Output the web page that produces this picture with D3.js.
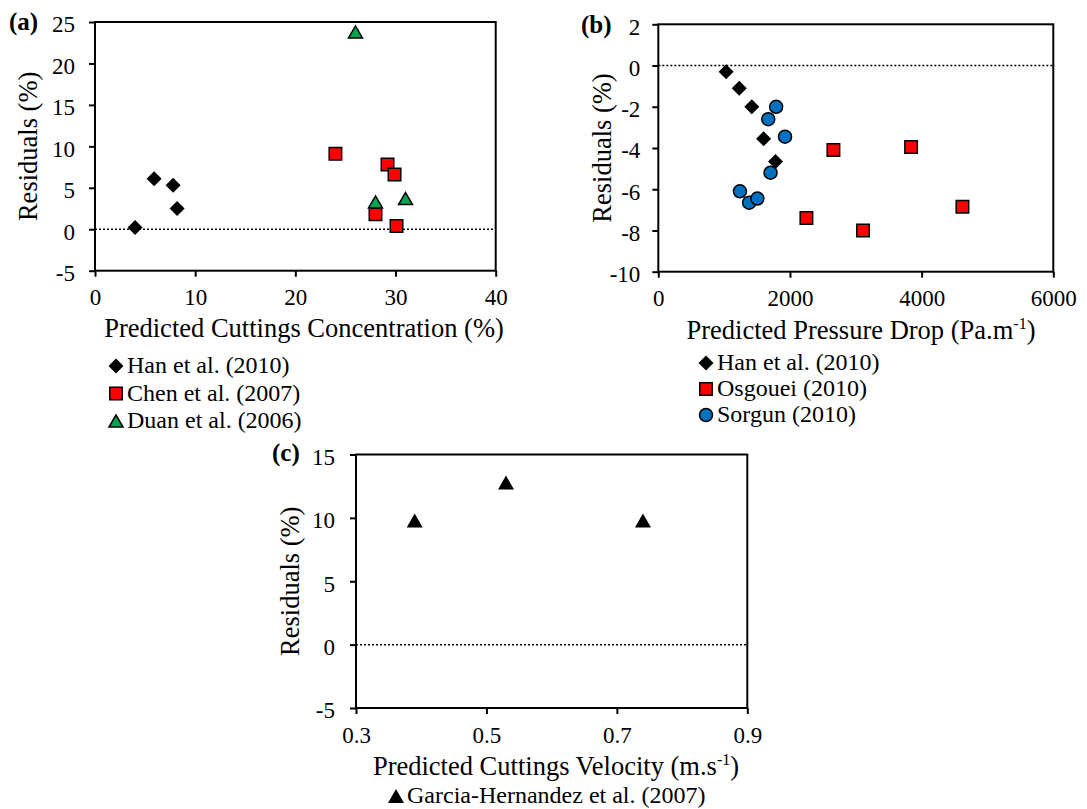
<!DOCTYPE html>
<html>
<head>
<meta charset="utf-8">
<script src="https://cdn.jsdelivr.net/npm/d3@7"></script>
<style>
body { margin: 0; background: #fff; }
svg { display: block; }
</style>
</head>
<body>
<svg id="chart" width="1087" height="809"></svg>
<script>
// ---- data ----
// (a) cuttings concentration vs residuals
var hanA = [[4.0, 0.2], [5.9, 6.1], [7.8, 5.3], [8.2, 2.5]]
var chenA = [[24.0, 9.1], [29.2, 7.8], [29.9, 6.6], [28.0, 1.8], [30.1, 0.4]]
var duanA = [[26.0, 23.8], [28.0, 3.3], [31.0, 3.7]]
// (b) pressure drop vs residuals
var hanB = [[1030, -0.3], [1230, -1.1], [1420, -2.0], [1600, -3.55], [1780, -4.65]]
var osgoueiB = [[2660, -4.1], [3840, -3.95], [2250, -7.4], [3110, -8.0], [4620, -6.85]]
var sorgunB = [[1790, -2.0], [1670, -2.6], [1925, -3.45], [1705, -5.2], [1240, -6.1], [1380, -6.65], [1505, -6.45]]
// (c) cuttings velocity vs residuals
var garciaC = [[0.39, 9.8], [0.53, 12.8], [0.74, 9.8]]

var ticksAx = [0, 10, 20, 30, 40], ticksAy = [-5, 0, 5, 10, 15, 20, 25]
var ticksBx = [0, 2000, 4000, 6000], ticksBy = [-10, -8, -6, -4, -2, 0, 2]
var ticksCx = [0.3, 0.5, 0.7, 0.9], ticksCy = [-5, 0, 5, 10, 15]

var FONT = '"Liberation Serif", "Times New Roman", Times, serif'
var svg = d3.select('#chart').style('font-family', FONT)

// marker outline centred on (0,0), w x h box
function marker(shape, w, h) {
    var a = w / 2, b = h / 2
    if (shape == 'diamond') return 'M0,' + (-b) + 'L' + a + ',0L0,' + b + 'L' + (-a) + ',0Z'
    if (shape == 'square') return 'M' + (-a) + ',' + (-b) + 'H' + a + 'V' + b + 'H' + (-a) + 'Z'
    if (shape == 'triangle') return 'M0,' + (-b) + 'L' + a + ',' + b + 'L' + (-a) + ',' + b + 'Z'
    // circle
    return 'M' + a + ',0A' + a + ',' + a + ' 0 1,1 ' + (-a) + ',0A' + a + ',' + a + ' 0 1,1 ' + a + ',0Z'
}

var styles = {
    han: { shape: 'diamond', w: 15, h: 15, fill: '#000', stroke: 'none' },
    chen: { shape: 'square', w: 12.5, h: 12.5, fill: '#ff0000', stroke: '#000' },
    duan: { shape: 'triangle', w: 14, h: 12, fill: '#00a550', stroke: '#000' },
    sorgun: { shape: 'circle', w: 13, h: 13, fill: '#0070c0', stroke: '#000' },
    garcia: { shape: 'triangle', w: 16, h: 14, fill: '#000', stroke: 'none' }
}

function txt(sel, size) {
    return sel.style('font-family', FONT).style('font-size', size + 'px').attr('fill', '#000')
}

function drawPanel(p) {
    var x = d3.scaleLinear().domain(p.xd).range(p.xr)
    var y = d3.scaleLinear().domain(p.yd).range(p.yr)
    var g = svg.append('g')

    // zero line
    g.append('line')
        .attr('x1', x(p.xd[0])).attr('x2', x(p.xd[1]))
        .attr('y1', y(0)).attr('y2', y(0))
        .attr('stroke', '#000').attr('stroke-width', 1.5)
        .attr('stroke-dasharray', '2,2')

    // frame
    g.append('rect')
        .attr('x', p.xr[0]).attr('y', p.yr[1])
        .attr('width', p.xr[1] - p.xr[0]).attr('height', p.yr[0] - p.yr[1])
        .attr('fill', 'none').attr('stroke', '#000').attr('stroke-width', 2)

    var xa = g.append('g').attr('transform', 'translate(0,' + p.yr[0] + ')')
        .call(d3.axisBottom(x).tickValues(p.xt).tickSize(6).tickPadding(8).tickFormat(d => String(d)))
    var ya = g.append('g').attr('transform', 'translate(' + p.xr[0] + ',0)')
        .call(d3.axisLeft(y).tickValues(p.yt).tickSize(6).tickPadding(p.ypad).tickFormat(d => String(d)))
    ;[xa, ya].forEach(function (a) {
        a.attr('font-family', null).attr('font-size', null)
        a.select('.domain').remove()
        a.selectAll('line').attr('stroke', '#000').attr('stroke-width', 2)
        txt(a.selectAll('text'), 23)
    })
    xa.selectAll('text').attr('dy', '0.9em')
    ya.selectAll('text').attr('dy', '0.43em')

    // points
    p.series.forEach(function (s) {
        var st = styles[s.style]
        g.selectAll(null).data(s.data).enter().append('path')
            .attr('transform', d => 'translate(' + x(d[0]) + ',' + y(d[1]) + ')')
            .attr('d', marker(st.shape, st.w, st.h))
            .attr('fill', st.fill)
            .attr('stroke', st.stroke).attr('stroke-width', 1.5)
    })

    // y title
    txt(g.append('text'), 26.5)
        .attr('transform', 'translate(' + p.ytx + ',' + (p.yr[0] + p.yr[1]) / 2 + ') rotate(-90)')
        .attr('text-anchor', 'middle')
        .text('Residuals (%)')

    // x title
    var xt = txt(g.append('text'), 26.5)
        .attr('x', p.xtx).attr('y', p.xty)
        .attr('text-anchor', 'middle')
    xt.append('tspan').text(p.xtitle)
    if (p.sup) {
        xt.append('tspan').attr('dy', -10).style('font-size', '16px').text(p.sup)
        xt.append('tspan').attr('dy', 10).text(')')
    }

    // panel label
    txt(g.append('text'), 25).attr('x', p.lab[0]).attr('y', p.lab[1])
        .style('font-weight', 'bold').text(p.label)

    // legend
    p.series.forEach(function (s, i) {
        var st = styles[s.style]
        var ly = p.leg[1] + i * p.leg[2]
        g.append('path')
            .attr('transform', 'translate(' + p.leg[0] + ',' + (ly - 7) + ')')
            .attr('d', marker(st.shape, st.w, st.h))
            .attr('fill', st.fill)
            .attr('stroke', st.stroke).attr('stroke-width', 1.5)
        txt(g.append('text'), 24).attr('x', p.leg[0] + 11).attr('y', ly)
            .text(s.name)
    })
}

drawPanel({
    xd: [0, 40], xr: [95, 495.7], yd: [-5, 25], yr: [270.7, 22],
    xt: ticksAx, yt: ticksAy, ypad: 14,
    series: [
        { name: 'Han et al. (2010)', style: 'han', data: hanA },
        { name: 'Chen et al. (2007)', style: 'chen', data: chenA },
        { name: 'Duan et al. (2006)', style: 'duan', data: duanA }
    ],
    ytx: 37, xtx: 304, xty: 336.5, xtitle: 'Predicted Cuttings Concentration (%)',
    label: '(a)', lab: [9, 30], leg: [116, 373, 27.5]
})

drawPanel({
    xd: [0, 6000], xr: [658.3, 1053.3], yd: [-10, 2], yr: [271.7, 24.3],
    xt: ticksBx, yt: ticksBy, ypad: 12,
    series: [
        { name: 'Han et al. (2010)', style: 'han', data: hanB },
        { name: 'Osgouei (2010)', style: 'chen', data: osgoueiB },
        { name: 'Sorgun (2010)', style: 'sorgun', data: sorgunB }
    ],
    ytx: 611, xtx: 861, xty: 339, xtitle: 'Predicted Pressure Drop (Pa.m', sup: '-1',
    label: '(b)', lab: [581, 33], leg: [706, 370, 26]
})

drawPanel({
    xd: [0.3, 0.9], xr: [356, 747.3], yd: [-5, 15], yr: [708, 454.5],
    xt: ticksCx, yt: ticksCy, ypad: 15,
    series: [
        { name: 'Garcia-Hernandez et al. (2007)', style: 'garcia', data: garciaC }
    ],
    ytx: 299, xtx: 556, xty: 775, xtitle: 'Predicted Cuttings Velocity (m.s', sup: '-1',
    label: '(c)', lab: [272, 461], leg: [396, 803, 26]
})
</script>
</body>
</html>
